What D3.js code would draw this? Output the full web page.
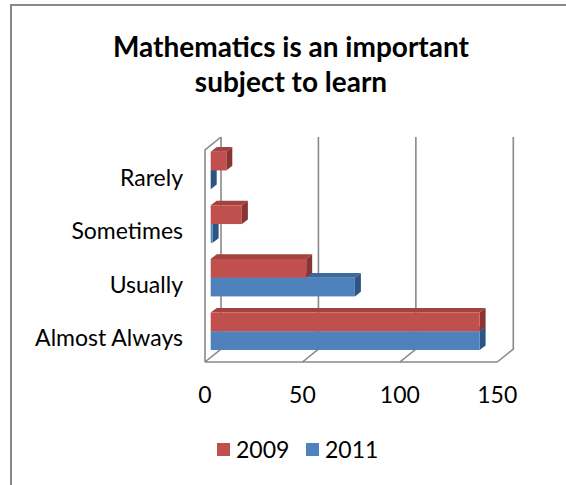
<!DOCTYPE html>
<html><head><meta charset="utf-8">
<script src="https://cdn.jsdelivr.net/npm/d3@7"></script>
<style>body{margin:0;background:#fff;overflow:hidden}svg{display:block}</style>
</head><body><svg id="c" width="566" height="485"></svg>
<script>
const categories = ["Rarely", "Sometimes", "Usually", "Almost Always"];
const seriesNames = ["2009", "2011"];
const values2009 = [8, 16, 49, 138];
const values2011 = [0, 1, 74, 138];
const xTicks = [0, 50, 100, 150];
const titleLines = ["Mathematics is an important", "subject to learn"];

const colors = {
  "2009": {front: "#C0504D", top: "#A5413E", side: "#8A3533"},
  "2011": {front: "#4F81BD", top: "#3D6A9E", side: "#2E5582"}
};
const FONT = "Lato, 'Open Sans', sans-serif";

const svg = d3.select("#c");
// chart border
svg.append("rect").attr("x", 11).attr("y", 5).attr("width", 700).attr("height", 700)
  .attr("fill", "#fff").attr("stroke", "#888").attr("stroke-width", 2);

// title
svg.append("g").selectAll("text").data(titleLines).join("text")
  .attr("x", 291).attr("y", (d, i) => 47 + i * 35).attr("dy", "0.35em")
  .attr("text-anchor", "middle").attr("font-family", FONT).attr("font-weight", "bold")
  .attr("font-size", 28).attr("fill", "#000").text(d => d);

// 3D geometry
const wallDx = 16, wallDy = -13;
const floorY = 362, wallTopY = 150;
const x = d3.scaleLinear().domain([0, 150]).range([205, 497.3]);
const barOffX = 5.7, barDepthX = 6, barDepthY = -4.6;
const y = d3.scaleBand().domain(categories).range([143.65, 358.05]).paddingInner(0.3).paddingOuter(0.15);
const ys = d3.scaleBand().domain(seriesNames).range([0, y.bandwidth()]);

const gridColor = "#898989";
const grid = svg.append("g").attr("fill", "none").attr("stroke", gridColor).attr("stroke-width", 1.6);
// left wall
grid.append("path").attr("d", d3.line()([[x(0), floorY], [x(0), wallTopY], [x(0) + wallDx, wallTopY + wallDy]]));
// floor front
grid.append("path").attr("d", d3.line()([[x(0), floorY], [x(150), floorY]]));
// gridlines: floor diagonal + back wall vertical
grid.selectAll("path.g").data(xTicks).join("path").attr("class", "g")
  .attr("d", t => d3.line()([[x(t), floorY], [x(t) + wallDx, floorY + wallDy], [x(t) + wallDx, wallTopY + wallDy]]));

// bars
const bars = [];
categories.forEach((c, i) => {
  bars.push({cat: c, s: "2011", v: values2011[i]});
  bars.push({cat: c, s: "2009", v: values2009[i]});
});
const bg = svg.append("g");
bars.forEach(b => {
  const x0 = x(0) + barOffX, x1 = x(b.v) + barOffX;
  const y0 = y(b.cat) + ys(b.s), h = ys.bandwidth();
  const col = colors[b.s];
  const g = bg.append("g");
  g.append("path").attr("fill", col.top)
    .attr("d", d3.line()([[x0, y0], [x0 + barDepthX, y0 + barDepthY], [x1 + barDepthX, y0 + barDepthY], [x1, y0]]) + "Z");
  g.append("path").attr("fill", col.side)
    .attr("d", d3.line()([[x1, y0], [x1 + barDepthX, y0 + barDepthY], [x1 + barDepthX, y0 + h + barDepthY], [x1, y0 + h]]) + "Z");
  g.append("rect").attr("x", x0).attr("y", y0).attr("width", Math.max(0, x1 - x0)).attr("height", h).attr("fill", col.front);
});

// category labels
svg.append("g").selectAll("text").data(categories).join("text")
  .attr("x", 183).attr("y", d => y(d) + y.bandwidth() / 2 + 7).attr("dy", "0.35em")
  .attr("text-anchor", "end").attr("font-family", FONT).attr("font-size", 23).attr("fill", "#000")
  .text(d => d);

// x tick labels
svg.append("g").selectAll("text").data(xTicks).join("text")
  .attr("x", d => x(d)).attr("y", 395).attr("dy", "0.35em")
  .attr("text-anchor", "middle").attr("font-family", FONT).attr("font-size", 23).attr("fill", "#000")
  .text(d => d);

// legend
const legendX = [217, 306];
const lg = svg.append("g").selectAll("g").data(seriesNames).join("g")
  .attr("transform", (d, i) => `translate(${legendX[i]},443)`);
lg.append("rect").attr("width", 13).attr("height", 13).attr("fill", d => colors[d].front);
lg.append("text").attr("x", 19).attr("y", 7).attr("dy", "0.35em")
  .attr("font-family", FONT).attr("font-size", 23).attr("fill", "#000").text(d => d);
</script></body></html>
